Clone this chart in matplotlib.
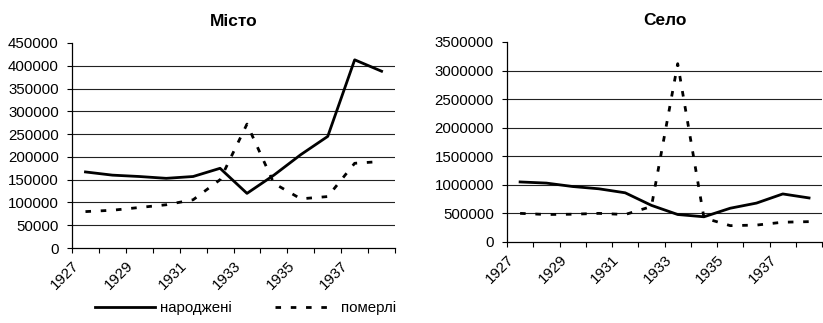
import matplotlib.pyplot as plt
import numpy as np

plt.rcParams['font.family'] = ['Liberation Sans', 'DejaVu Sans']
plt.rcParams['font.size'] = 10.8

years = [1927, 1928, 1929, 1930, 1931, 1932, 1933, 1934, 1935, 1936, 1937, 1938]

# Місто (city)
city_born = [167000, 160000, 157000, 153000, 157000, 175000, 120000, 160000, 205000, 245000, 413000, 388000]
city_died = [80000, 83000, 89000, 95000, 106000, 150000, 272000, 142000, 108000, 113000, 186000, 190000]

# Село (village)
village_born = [1050000, 1030000, 970000, 930000, 860000, 640000, 480000, 440000, 590000, 680000, 840000, 770000]
village_died = [500000, 480000, 485000, 500000, 480000, 620000, 3120000, 420000, 285000, 295000, 345000, 355000]


def draw_panel(ax, title, born, died, ymax, ystep):
    x = np.arange(len(years)) + 0.5
    ax.plot(x, born, color='black', lw=2.0, solid_joinstyle='round', label='народжені')
    ax.plot(x, died, color='black', lw=2.0, ls=(0, (2, 3.5)), label='померлі')

    ax.set_xlim(0, len(years))
    ax.set_ylim(0, ymax)
    ax.set_yticks(np.arange(0, ymax + 1, ystep))
    ax.set_yticklabels([str(int(v)) for v in np.arange(0, ymax + 1, ystep)])

    # category boundaries carry the ticks, every other year is labelled
    ax.set_xticks(np.arange(len(years) + 1))
    labels = []
    for i in range(len(years) + 1):
        labels.append(str(years[0] + i) if (i % 2 == 0 and i < len(years)) else '')
    ax.set_xticklabels(labels, rotation=45, ha='right', va='top', rotation_mode='anchor')

    ax.grid(axis='y', color='#222222', lw=0.8)
    ax.get_ygridlines()[0].set_visible(False)
    ax.get_ygridlines()[-1].set_visible(False)
    ax.set_axisbelow(True)

    for s in ['top', 'right']:
        ax.spines[s].set_visible(False)
    ax.spines['left'].set_linewidth(0.9)
    ax.spines['bottom'].set_linewidth(0.9)
    ax.tick_params(axis='both', length=3.5, width=0.8, direction='out')
    ax.tick_params(axis='y', pad=6)
    ax.tick_params(axis='x', pad=4)
    ax.set_title(title, fontsize=12.5, fontweight='bold', pad=12)


fig = plt.figure(figsize=(8.23, 3.23), dpi=100)
ax1 = fig.add_axes([0.0875, 0.232, 0.3925, 0.635])
ax2 = fig.add_axes([0.616, 0.251, 0.383, 0.619])

draw_panel(ax1, 'Місто', city_born, city_died, 450000, 50000)
draw_panel(ax2, 'Село', village_born, village_died, 3500000, 500000)

handles, labels = ax1.get_legend_handles_labels()
fig.legend(handles, labels, loc='center', bbox_to_anchor=(0.298, 0.045), ncol=2,
           frameon=False, handlelength=4, handletextpad=0.35, columnspacing=2.9)

fig.savefig('out.png', dpi=100)
